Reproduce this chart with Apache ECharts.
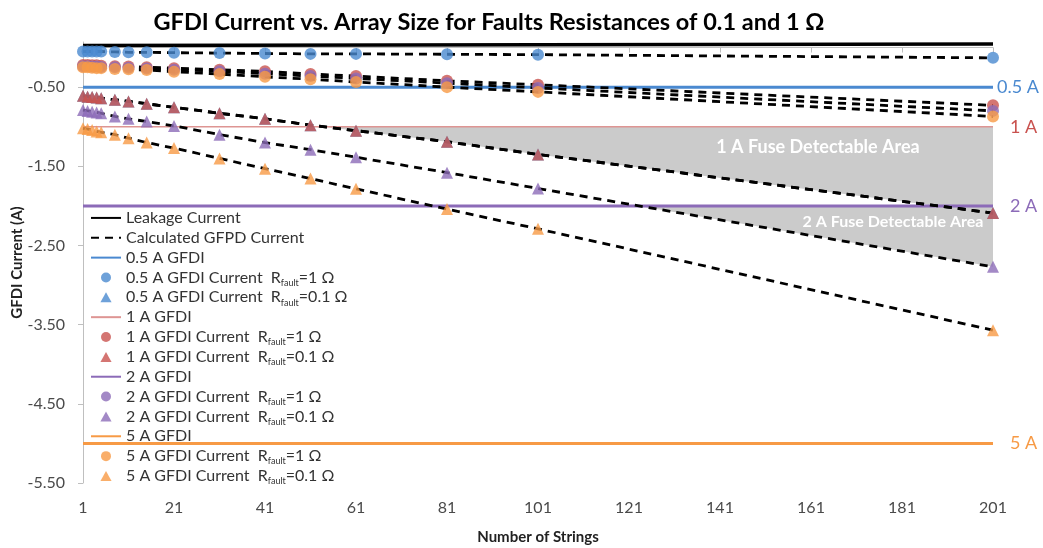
<!DOCTYPE html>
<html>
<head>
<meta charset="utf-8">
<script src="https://cdn.jsdelivr.net/npm/echarts@6/dist/echarts.min.js"></script>
<style>html,body{margin:0;padding:0;background:#fff;}#c{width:1043px;height:548px;}</style>
</head>
<body>
<div id="c"></div>
<script>
// ---- data ----
const strings = [1, 2, 3, 4, 5, 8, 11, 15, 21, 31, 41, 51, 61, 81, 101, 201];
const endX = [1, 201];
const leakage = [0.025, 0.045];
const gfdi05 = [-0.5, -0.5];
const gfdi1 = [-1, -1];
const gfdi2 = [-2, -2];
const gfdi5 = [-5, -5];
const blueCircle = [-0.05, -0.05, -0.05, -0.05, -0.05, -0.055, -0.06, -0.06, -0.065, -0.07, -0.075, -0.08, -0.08, -0.085, -0.09, -0.13];
const redCircle = [-0.22, -0.22, -0.225, -0.225, -0.23, -0.235, -0.24, -0.25, -0.26, -0.28, -0.30, -0.335, -0.36, -0.42, -0.47, -0.73];
const purpleCircle = [-0.235, -0.235, -0.24, -0.24, -0.245, -0.25, -0.255, -0.265, -0.28, -0.30, -0.33, -0.36, -0.39, -0.45, -0.51, -0.80];
const orangeCircle = [-0.25, -0.25, -0.255, -0.26, -0.26, -0.27, -0.275, -0.285, -0.305, -0.335, -0.37, -0.40, -0.435, -0.50, -0.56, -0.87];
const blueTriangle = [-0.61, -0.62, -0.625, -0.63, -0.64, -0.66, -0.68, -0.71, -0.755, -0.83, -0.90, -0.98, -1.05, -1.19, -1.35, -2.09];
const redTriangle = [-0.61, -0.62, -0.625, -0.63, -0.64, -0.66, -0.68, -0.71, -0.755, -0.83, -0.90, -0.98, -1.05, -1.19, -1.35, -2.09];
const purpleTriangle = [-0.79, -0.80, -0.81, -0.82, -0.83, -0.87, -0.90, -0.935, -0.99, -1.10, -1.20, -1.29, -1.385, -1.58, -1.78, -2.77];
const orangeTriangle = [-1.02, -1.03, -1.04, -1.06, -1.07, -1.10, -1.145, -1.20, -1.27, -1.40, -1.53, -1.655, -1.785, -2.04, -2.29, -3.57];
const xTicks = [1, 21, 41, 61, 81, 101, 121, 141, 161, 181, 201];

// ---- helpers ----
const FONT = 'Lato, "Open Sans", sans-serif';
const C = { blue: '#4a89d0', red: '#c9524f', redLine: '#de9593', purple: '#8c6bb8', orange: '#f79a45', gray: '#cbcbcb' };
const TRI = 'path://M5,0 L10,9 L0,9 Z';
const pairs = (x, y) => x.map((v, i) => [v, y[i]]);
function crossX(x, y, level) {
  for (let i = 1; i < x.length; i++) {
    if ((y[i - 1] - level) * (y[i] - level) <= 0 && y[i - 1] !== y[i]) {
      return x[i - 1] + (x[i] - x[i - 1]) * (level - y[i - 1]) / (y[i] - y[i - 1]);
    }
  }
  return x[x.length - 1];
}
function fusePolygon() {
  const top = gfdi1[0], mid = gfdi2[0];
  const xr1 = crossX(strings, redTriangle, top);
  const xr2 = crossX(strings, redTriangle, mid);
  const xp2 = crossX(strings, purpleTriangle, mid);
  const last = strings.length - 1;
  const pts = [[xr1, top], [strings[last], top], [strings[last], purpleTriangle[last]]];
  for (let i = last - 1; i >= 0; i--) if (strings[i] > xp2) pts.push([strings[i], purpleTriangle[i]]);
  pts.push([xp2, mid], [xr2, mid]);
  for (let i = last; i >= 0; i--) if (strings[i] > xr1 && strings[i] < xr2) pts.push([strings[i], redTriangle[i]]);
  return pts;
}

const dashStyle = { color: '#000', width: 2.8, type: [8, 6] };
function calc(vals) {
  return { name: 'Calculated GFPD Current', type: 'line', data: pairs(strings, vals), symbol: 'none',
    itemStyle: { color: '#000' }, lineStyle: dashStyle, z: 3, silent: true, animation: false };
}
function marks(name, vals, color, shape) {
  return { name, type: 'scatter', data: pairs(strings, vals), symbol: shape,
    symbolSize: 12, itemStyle: { color }, z: 5, animation: false };
}
function hline(name, vals, color, width, label, labelColor, dist) {
  return { name, type: 'line', data: pairs(endX, vals), symbol: 'none', itemStyle: { color }, lineStyle: { color, width }, z: 2,
    animation: false,
    endLabel: { show: true, formatter: label, color: labelColor, fontSize: 18, fontFamily: FONT, distance: dist } };
}
const names = {
  b1: '0.5 A GFDI Current  Rfault=1 Ω', b2: '0.5 A GFDI Current  Rfault=0.1 Ω',
  r1: '1 A GFDI Current  Rfault=1 Ω', r2: '1 A GFDI Current  Rfault=0.1 Ω',
  p1: '2 A GFDI Current  Rfault=1 Ω', p2: '2 A GFDI Current  Rfault=0.1 Ω',
  o1: '5 A GFDI Current  Rfault=1 Ω', o2: '5 A GFDI Current  Rfault=0.1 Ω'
};

const series = [
  { name: 'fill', type: 'custom', z: 1, silent: true, animation: false, data: [[strings[0], gfdi1[0]]],
    renderItem: (params, api) => ({ type: 'polygon', shape: { points: fusePolygon().map(p => api.coord(p)) },
      style: { fill: C.gray } }) },
  hline('0.5 A GFDI', gfdi05, C.blue, 3, '0.5 A', C.blue, 4),
  hline('1 A GFDI', gfdi1, C.redLine, 1.5, '1 A', C.red, 17),
  hline('2 A GFDI', gfdi2, C.purple, 3, '2 A', C.purple, 17),
  hline('5 A GFDI', gfdi5, C.orange, 3, '5 A', C.orange, 17),
  { name: 'Leakage Current', type: 'line', data: pairs(endX, leakage), symbol: 'none', itemStyle: { color: '#000' }, lineStyle: { color: '#000', width: 3.5 }, z: 3, animation: false },
  calc(blueCircle), calc(redCircle), calc(purpleCircle), calc(orangeCircle),
  calc(blueTriangle), calc(redTriangle), calc(purpleTriangle), calc(orangeTriangle),
  marks(names.b2, blueTriangle, C.blue, 'triangle'),
  marks(names.b1, blueCircle, C.blue, 'circle'),
  marks(names.r1, redCircle, C.red, 'circle'),
  marks(names.p1, purpleCircle, C.purple, 'circle'),
  marks(names.o1, orangeCircle, C.orange, 'circle'),
  marks(names.r2, redTriangle, C.red, 'triangle'),
  marks(names.p2, purpleTriangle, C.purple, 'triangle'),
  marks(names.o2, orangeTriangle, C.orange, 'triangle')
];

const noSym = { opacity: 0 };
const legendData = [
  { name: 'Leakage Current', itemStyle: noSym }, { name: 'Calculated GFPD Current', itemStyle: noSym },
  { name: '0.5 A GFDI', itemStyle: noSym }, { name: names.b1, icon: 'circle' }, { name: names.b2, icon: TRI },
  { name: '1 A GFDI', itemStyle: noSym }, { name: names.r1, icon: 'circle' }, { name: names.r2, icon: TRI },
  { name: '2 A GFDI', itemStyle: noSym }, { name: names.p1, icon: 'circle' }, { name: names.p2, icon: TRI },
  { name: '5 A GFDI', itemStyle: noSym }, { name: names.o1, icon: 'circle' }, { name: names.o2, icon: TRI }
];

const LH = 19.85;
const chart = echarts.init(document.getElementById('c'), null, { renderer: 'canvas' });
chart.setOption({
  animation: false,
  backgroundColor: '#fff',
  textStyle: { fontFamily: FONT },
  title: { text: 'GFDI Current vs. Array Size for Faults Resistances of 0.1 and 1 Ω', left: 484, textAlign: 'center', top: 5,
    textStyle: { fontFamily: FONT, fontSize: 23.5, fontWeight: 'bold', color: '#000' } },
  grid: { left: 83, right: 50, top: 42, bottom: 65, outerBoundsMode: 'none', containLabel: false },
  xAxis: { type: 'value', min: 1, max: 201, interval: 20,
    name: 'Number of Strings', nameLocation: 'middle', nameGap: 47, nameMoveOverlap: false,
    nameTextStyle: { fontFamily: FONT, fontSize: 15, fontWeight: 'bold', color: '#222' },
    axisLine: { lineStyle: { color: '#bfbfbf', width: 1 } },
    axisTick: { show: true, length: 5, lineStyle: { color: '#bfbfbf' } },
    axisLabel: { color: '#4a4a4a', fontSize: 16, fontFamily: FONT, margin: 17,
      formatter: v => (xTicks.indexOf(Math.round(v)) >= 0 ? String(Math.round(v)) : '') },
    splitLine: { show: false } },
  yAxis: { type: 'value', min: -5.5, max: 0.07, interval: 1,
    name: 'GFDI Current (A)', nameLocation: 'middle', nameGap: 58, nameRotate: 90, nameMoveOverlap: false,
    nameTextStyle: { fontFamily: FONT, fontSize: 15, fontWeight: 'bold', color: '#222' },
    axisLine: { show: true, lineStyle: { color: '#bfbfbf', width: 1 } },
    axisTick: { show: true, length: 5, lineStyle: { color: '#bfbfbf' } },
    axisLabel: { color: '#4a4a4a', fontSize: 16, fontFamily: FONT, margin: 18, showMaxLabel: false,
      formatter: v => (v > -0.3 ? '' : v.toFixed(2)) },
    splitLine: { show: false } },
  legend: { orient: 'vertical', left: 85, top: 203, itemWidth: 30, itemHeight: 10, itemGap: 0,
    data: legendData, selectedMode: false, z: 6,
    textStyle: { fontFamily: FONT, fontSize: 16, color: '#333', lineHeight: LH,
      rich: { r: { fontSize: 16, color: '#333', fontFamily: FONT, lineHeight: LH },
              s: { fontSize: 9, color: '#333', fontFamily: FONT, lineHeight: 9, verticalAlign: 'bottom' } } },
    formatter: n => n.replace('Rfault=', '{r|R}{s|fault}{r|=').replace(/ Ω$/, ' Ω}') },
  graphic: [
    { type: 'text', z: 100, x: 818, y: 147, style: { text: '1 A Fuse Detectable Area', fill: '#fff', font: 'bold 18px ' + FONT, textAlign: 'center', textVerticalAlign: 'middle' } },
    { type: 'text', z: 100, x: 893, y: 222, style: { text: '2 A Fuse Detectable Area', fill: '#fff', font: 'bold 16px ' + FONT, textAlign: 'center', textVerticalAlign: 'middle' } }
  ],
  series
});
</script>
</body>
</html>
